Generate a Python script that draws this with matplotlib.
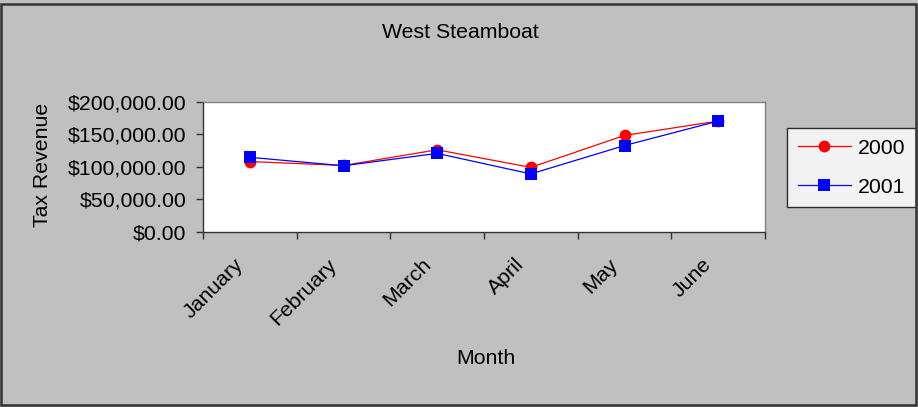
import matplotlib
matplotlib.use("Agg")
import matplotlib.pyplot as plt
from matplotlib.ticker import FuncFormatter, MultipleLocator
from matplotlib.transforms import ScaledTranslation

months = ["January", "February", "March", "April", "May", "June"]
rev_2000 = [108000, 102000, 126000, 99000, 148000, 170000]
rev_2001 = [114500, 101500, 120500, 89000, 132500, 170000]
series_labels = ["2000", "2001"]

plt.rcParams['font.family'] = ['Liberation Sans', 'DejaVu Sans']
FS = 15.3

fig = plt.figure(figsize=(9.18, 4.07), dpi=100)
fig.patch.set_facecolor('#C0C0C0')

# outer border
border = plt.Rectangle((0.0015, 0.004), 0.9965, 0.987, transform=fig.transFigure,
                       fill=False, edgecolor='#333333', linewidth=1.8, zorder=10)
fig.add_artist(border)

ax = fig.add_axes([203/918, 1-232/407, (765-203)/918, (232-101.5)/407])
ax.set_facecolor('white')

x = list(range(len(months)))
ax.plot(x, rev_2000, color='#FF0000', linewidth=0.9, marker='o', markersize=8.5,
        markeredgewidth=0, label=series_labels[0], zorder=3)
ax.plot(x, rev_2001, color='#0000FF', linewidth=0.9, marker='s', markersize=8.3,
        markeredgewidth=0, label=series_labels[1], zorder=4)

ax.set_xlim(-0.5, len(months) - 0.5)
ax.set_ylim(0, 200000)
ax.yaxis.set_major_locator(MultipleLocator(50000))
ax.yaxis.set_major_formatter(FuncFormatter(lambda v, p: "${:,.2f}".format(v)))

# category ticks between categories
ax.set_xticks([i - 0.5 for i in range(len(months) + 1)])
ax.set_xticklabels([])
ax.tick_params(axis='x', which='major', length=5, width=1, color='#333333', direction='out')
ax.tick_params(axis='y', length=5, width=1, color='#333333', direction='out', labelsize=FS, pad=7)

# rotated category labels
off = ScaledTranslation(-16/100, -23/100, fig.dpi_scale_trans)
for i, m in enumerate(months):
    ax.text(i, 0, m, transform=ax.get_xaxis_transform() + off, rotation=45,
            ha='right', va='top', rotation_mode='anchor', fontsize=FS, clip_on=False)

for side in ['top', 'right']:
    ax.spines[side].set_color('#808080')
    ax.spines[side].set_linewidth(1.0)
for side in ['left', 'bottom']:
    ax.spines[side].set_color('#333333')
    ax.spines[side].set_linewidth(1.0)

fig.text(460/918, 1-32/407, "West Steamboat", ha='center', va='center', fontsize=FS)
fig.text(486/918, 1-358/407, "Month", ha='center', va='center', fontsize=FS)
fig.text(42/918, 1-165/407, "Tax Revenue", ha='center', va='center', rotation=90, fontsize=FS)

leg = fig.legend(loc='upper left', bbox_to_anchor=(787/918, 1-128/407), fontsize=FS,
                 frameon=True, fancybox=False, shadow=False, borderpad=0.5,
                 handlelength=2.5, labelspacing=0.95, handletextpad=0.35, borderaxespad=0)
leg.get_frame().set_edgecolor('black')
leg.get_frame().set_linewidth(1.0)
leg.get_frame().set_facecolor('white')

fig.savefig("out.png", dpi=100, facecolor=fig.get_facecolor())
